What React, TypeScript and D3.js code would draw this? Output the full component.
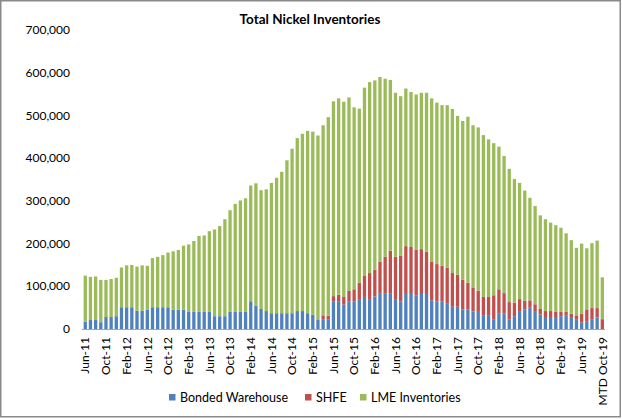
import React from "react";
import * as d3 from "d3";

const months = ["Jan","Feb","Mar","Apr","May","Jun","Jul","Aug","Sep","Oct","Nov","Dec"];
const categories: string[] = [];
for (let i = 0; i < 100; i++) {
  const m = (5 + i) % 12;
  const y = 11 + Math.floor((5 + i) / 12);
  categories.push(`${months[m]}-${y}`);
}
categories.push("MTD Oct-19");

// thousand tonnes
const bonded = [17,21,21,16,28,28,30,51,51,51,43,43,45,51,51,51,51,45,45,45,40,40,40,40,40,30,30,30,40,40,40,40,65,55,47,42,37,37,37,37,37,42,42,37,33,21,23,23,65,65,57,65,65,70,75,70,76,84,84,84,70,64,82,82,79,82,82,67,64,64,59,52,52,46,46,41,40,31,31,23,37,37,23,30,42,46,51,42,34,28,28,28,30,31,28,23,15,17,23,27,0];
const shfe = [0,0,0,0,0,0,0,0,0,0,0,0,0,0,0,0,0,0,0,0,0,0,0,0,0,0,0,0,0,0,0,0,0,0,0,0,0,0,0,0,0,0,0,0,0,0,9,8,12,15,18,24,28,38,49,61,63,74,85,99,99,108,112,110,107,105,99,90,88,84,84,79,75,69,62,55,50,44,44,56,56,47,40,32,28,20,16,16,13,14,14,13,11,10,8,9,21,29,26,22,23];
const lme = [108,101,102,99,87,89,90,93,98,99,103,106,103,115,118,122,128,137,140,150,158,166,178,179,189,203,211,227,238,253,261,266,271,286,278,285,305,317,331,358,385,405,415,427,429,432,445,465,456,460,457,453,426,408,441,447,443,432,417,400,384,373,369,363,363,366,372,383,378,376,381,384,372,372,389,381,382,379,369,356,334,321,312,289,272,258,240,230,219,215,207,202,196,183,172,158,164,143,152,158,98];

const yTicks = [0,100000,200000,300000,400000,500000,600000,700000];
const seriesNames = ["Bonded Warehouse","SHFE","LME Inventories"];
const colors = ["#4F81BD","#C0504D","#9BBB59"];

export default function App() {
  const W = 622, H = 419;
  const x = d3.scaleBand<string>().domain(categories).range([82.7, 604.9]).paddingInner(0.36).paddingOuter(0.18);
  const y = d3.scaleLinear().domain([0, 700000]).range([329, 30]);
  const rows = categories.map((c, i) => ({ cat: c, b: bonded[i] * 1000, s: shfe[i] * 1000, l: lme[i] * 1000 }));
  const stack = d3.stack<any>().keys(["b","s","l"])(rows);
  const fmt = d3.format(",");
  const font = "Lato, 'Open Sans', sans-serif";
  return (
    <svg width={W} height={H} style={{ position: "absolute", left: 0, top: 0 }} fontFamily={font}>
      <rect x={0} y={0} width={W} height={H} fill="#fff" />
      <rect x={0.75} y={0.75} width={619.5} height={416} fill="none" stroke="#8a8a8a" strokeWidth={1.5} />
      <text x={310} y={24} textAnchor="middle" fontSize={13.5} fontWeight="bold" fill="#000">Total Nickel Inventories</text>
      {yTicks.map(t => (
        <text key={t} x={70} y={y(t)} dy="0.35em" textAnchor="end" fontSize={12} fill="#000">{fmt(t)}</text>
      ))}
      {stack.map((layer, li) => (
        <g key={li} fill={colors[li]}>
          {layer.map((d, i) => {
            const h = y(d[0]) - y(d[1]);
            if (h <= 0) return null;
            return <rect key={i} x={x(categories[i])} y={y(d[1])} width={x.bandwidth()} height={h} />;
          })}
        </g>
      ))}
      <line x1={82} x2={605} y1={329.5} y2={329.5} stroke="#a6a6a6" strokeWidth={1} />
      {categories.map((c, i) => i % 4 === 0 ? (
        <text key={c} transform={`translate(${(x(c) as number) + x.bandwidth() / 2},337) rotate(-90)`} dy="0.35em" textAnchor="end" fontSize={12} fill="#000">{c}</text>
      ) : null)}
      {seriesNames.map((n, i) => {
        const lx = [169, 305, 360][i];
        return (
          <g key={n}>
            <rect x={lx} y={394} width={6.5} height={6.5} fill={colors[i]} />
            <text x={lx + 11} y={397.5} dy="0.35em" fontSize={12.5} fill="#000">{n}</text>
          </g>
        );
      })}
    </svg>
  );
}
